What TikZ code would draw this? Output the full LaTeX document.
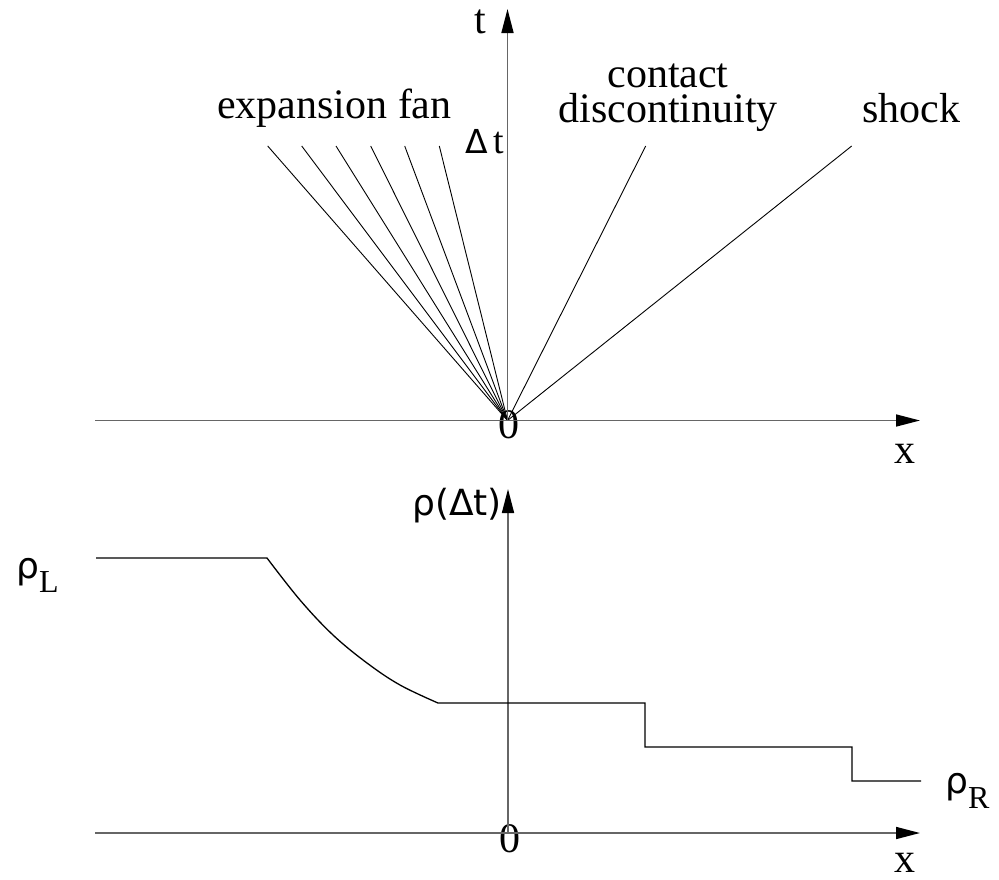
\documentclass[tikz,border=0pt]{standalone}
\usepackage{fontspec}
\setmainfont{Liberation Serif}
\newfontfamily\grk{DejaVu Sans}
\usetikzlibrary{arrows.meta}
\begin{document}
\begin{tikzpicture}[x=1pt,y=-1pt,
  axis/.style={line width=1.6pt, draw=black!60, -{Triangle[length=24pt,width=12pt,color=black]}},
  ray/.style={line width=0.9pt, draw=black},
  prof/.style={line width=1.3pt, draw=black},
  lbl/.style={inner sep=0pt, font=\fontsize{42}{50}\selectfont},
  glbl/.style={inner sep=0pt, anchor=base west}]
\useasboundingbox (0,0) rectangle (999,879);
% coordinates
\coordinate (O) at (507.5,420.5);
\coordinate (xs1) at (95,420.5);
\coordinate (xe1) at (920,420.5);
\coordinate (te) at (507.5,9);
\coordinate (xs2) at (95,833);
\coordinate (xe2) at (920,833);
\coordinate (O2) at (508,833);
\coordinate (re) at (508,489);
% labels
\node[lbl, anchor=base] (tlab) at (480,33) {t};
\node[lbl, anchor=base west] (fan) at (217,118) {expansion fan};
\node[glbl] (dt) at (465,153) {{\grk\fontsize{33}{33}\selectfont Δ}\hspace{6pt}{\fontsize{38}{40}\selectfont t}};
\node[inner sep=0pt, anchor=base, align=center, font=\fontsize{42}{35}\selectfont] (contact) at (668,122) {contact\\discontinuity};
\node[lbl, anchor=base west] (shock) at (862,122) {shock};
\node[lbl, anchor=base] (zero1) at (509,438) {0};
\node[lbl, anchor=base] (xlab1) at (905,463) {x};
\node[glbl, font=\grk\fontsize{36}{40}\selectfont] (rhodt) at (412,515) {ρ(Δt)};
\node[glbl] (rhoL) at (16,578) {{\grk\fontsize{36}{38}\selectfont ρ}\hspace{0pt}\raisebox{-14pt}{\fontsize{32}{34}\selectfont L}};
\node[glbl] (rhoR) at (945,793) {{\grk\fontsize{36}{38}\selectfont ρ}\hspace{0pt}\raisebox{-15pt}{\fontsize{32}{34}\selectfont R}};
\node[lbl, anchor=base] (zero2) at (510,852) {0};
\node[lbl, anchor=base] (xlab2) at (905,872) {x};
% upper diagram
\foreach \x [count=\i] in {267.7,301.7,336,370.7,404.7,439.3} {
  \coordinate (f\i) at (\x,146);
  \draw[ray] (O) -- (f\i);
}
\coordinate (cd) at (645.7,146);
\coordinate (sk) at (851.7,146);
\draw[ray] (O) -- (cd);
\draw[ray] (O) -- (sk);
\draw[axis] (xs1) -- (xe1);
\draw[axis] (O) -- (te);
% lower diagram
\draw[axis] (xs2) -- (xe2);
\draw[axis] (O2) -- (re);
\draw[prof] (96,558) -- (267,558)
  -- plot[smooth, tension=0.6] coordinates {(267,558) (300,600) (333,635) (367,663) (400,685) (438,703)}
  -- (645,703) -- (645,747) -- (852,747) -- (852,781) -- (921,781);
\end{tikzpicture}
\end{document}
